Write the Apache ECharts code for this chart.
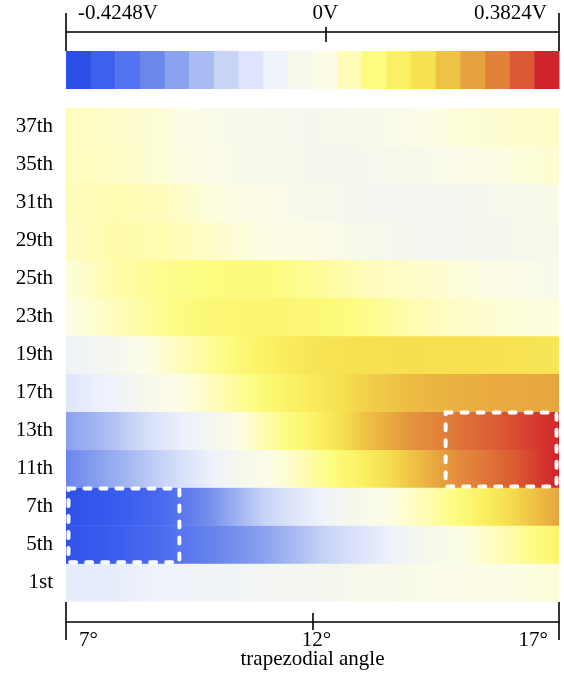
<!DOCTYPE html>
<html>
<head>
<meta charset="utf-8">
<script src="https://cdn.jsdelivr.net/npm/echarts@6/dist/echarts.min.js"></script>
<style>
  html, body { margin: 0; padding: 0; background: #fff; }
  #chart { width: 564px; height: 676px; }
</style>
</head>
<body>
<div id="chart"></div>
<script>
// Harmonic orders, listed bottom to top
const harmonics = ['1st', '5th', '7th', '11th', '13th', '17th', '19th', '23th', '25th', '29th', '31th', '35th', '37th'];

// Trapezoidal angle nodes (degrees) where each row's voltage is sampled
const angleNodes = [7, 8, 9, 10, 11, 12, 13, 14, 15, 16, 17];

// Harmonic voltage (V) at each angle node
const v1st  = [-0.100, -0.095, -0.080, -0.070, -0.060, -0.050, -0.040, -0.025, -0.010, 0.000, 0.010];
const v5th  = [-0.395, -0.370, -0.335, -0.290, -0.245, -0.180, -0.120, -0.060, -0.005, 0.050, 0.105];
const v7th  = [-0.400, -0.375, -0.340, -0.265, -0.165, -0.090, -0.035, 0.025, 0.085, 0.165, 0.240];
const v11th = [-0.285, -0.225, -0.160, -0.080, -0.015, 0.055, 0.120, 0.200, 0.270, 0.315, 0.365];
const v13th = [-0.245, -0.190, -0.110, -0.050, 0.045, 0.110, 0.195, 0.260, 0.295, 0.328, 0.360];
const v17th = [-0.115, -0.075, -0.020, 0.035, 0.090, 0.135, 0.180, 0.210, 0.225, 0.232, 0.235];
const v19th = [-0.080, -0.045, 0.020, 0.065, 0.115, 0.150, 0.160, 0.162, 0.160, 0.155, 0.148];
const v23th = [-0.005, 0.035, 0.070, 0.095, 0.100, 0.095, 0.075, 0.045, 0.025, 0.010, 0.005];
const v25th = [0.010, 0.050, 0.070, 0.080, 0.085, 0.065, 0.040, 0.025, 0.010, -0.010, -0.030];
const v29th = [0.030, 0.050, 0.045, 0.025, 0.000, -0.005, -0.035, -0.050, -0.050, -0.045, -0.030];
const v31th = [0.035, 0.045, 0.035, 0.005, -0.010, -0.035, -0.050, -0.050, -0.050, -0.040, -0.020];
const v35th = [0.035, 0.030, 0.010, -0.015, -0.035, -0.045, -0.045, -0.035, -0.010, 0.005, 0.020];
const v37th = [0.035, 0.025, 0.010, -0.020, -0.040, -0.045, -0.035, -0.010, 0.010, 0.020, 0.025];

const rowValues = [v1st, v5th, v7th, v11th, v13th, v17th, v19th, v23th, v25th, v29th, v31th, v35th, v37th];

// Colour scale, lowest to highest voltage (20 equal steps)
const colorScale = [
  '#2d4fe9', '#3e60ef', '#5473ee', '#6c87ec', '#8ba2ef',
  '#a9bbf3', '#c8d4f6', '#dde4fb', '#eef2fb', '#f6f8ec',
  '#fdfde6', '#fefcb8', '#fdfc80', '#fbf063', '#f6e150',
  '#efc245', '#e6a23e', '#e1813a', '#da5933', '#d1232b'
];

// Colour bar range and ticks (V)
const voltageTicks = [-0.4248, 0, 0.3824];
// Angle axis ticks (degrees)
const angleTicks = [7, 12, 17];

// Highlighted regions: angle span and the harmonic rows they cover
const boxStart = [7.05, 14.7];
const boxEnd = [9.3, 16.95];
const boxTopRow = ['7th', '13th'];
const boxBottomRow = ['5th', '11th'];

const vMin = voltageTicks[0];
const vMax = voltageTicks[voltageTicks.length - 1];
const vStep = (vMax - vMin) / colorScale.length;

function hexToRgb(h) {
  return [parseInt(h.slice(1, 3), 16), parseInt(h.slice(3, 5), 16), parseInt(h.slice(5, 7), 16)];
}
const scaleRgb = colorScale.map(hexToRgb);

// Continuous colour lookup: block centres carry the block colours
function colorAt(v) {
  const n = scaleRgb.length;
  const t = (v - vMin) / (vMax - vMin) * n - 0.5;
  let c;
  if (t <= 0) c = scaleRgb[0];
  else if (t >= n - 1) c = scaleRgb[n - 1];
  else {
    const i = Math.floor(t), f = t - i;
    const a = scaleRgb[i], b = scaleRgb[i + 1];
    c = [0, 1, 2].map(k => Math.round(a[k] + (b[k] - a[k]) * f));
  }
  return 'rgb(' + c.join(',') + ')';
}

const font = { fontFamily: 'Liberation Serif', fontSize: 21, color: '#000' };
const black = { color: '#000', width: 1.6 };

function tickAxis(gridIndex, position, offset, values, inside, length, min, max, showLine) {
  return {
    type: 'value', gridIndex, position, offset, min, max,
    axisLine: { show: !!showLine, onZero: false, lineStyle: black },
    axisTick: { show: true, customValues: values, inside, length, lineStyle: black },
    axisLabel: { show: false },
    splitLine: { show: false }
  };
}

function labelAxis(gridIndex, position, offset, values, align, padding, min, max, fmt) {
  return {
    type: 'value', gridIndex, position, offset, min, max,
    axisLine: { show: false, onZero: false },
    axisTick: { show: false },
    axisLabel: Object.assign({
      show: true, customValues: values, align, padding, margin: 8, formatter: fmt
    }, font),
    splitLine: { show: false }
  };
}

const aMin = angleNodes[0];
const aMax = angleNodes[angleNodes.length - 1];
const vFmt = v => v + 'V';
const aFmt = v => v + '°';

const xAxes = [
  // colour bar voltage axis
  tickAxis(0, 'top', 19, [vMin, vMax], false, 19, vMin, vMax, true),
  tickAxis(0, 'top', 19, [vMin, vMax], true, 19, vMin, vMax),
  tickAxis(0, 'top', 19, [voltageTicks[1]], false, 5, vMin, vMax),
  tickAxis(0, 'top', 19, [voltageTicks[1]], true, 10, vMin, vMax),
  labelAxis(0, 'top', 19, [vMin], 'left', [0, 0, 0, 12], vMin, vMax, vFmt),
  labelAxis(0, 'top', 19, [voltageTicks[1]], 'center', 0, vMin, vMax, vFmt),
  labelAxis(0, 'top', 19, [vMax], 'right', [0, 12, 0, 0], vMin, vMax, vFmt),
  // heat map angle axis
  Object.assign(tickAxis(1, 'bottom', 21, [aMin, aMax], false, 18, aMin, aMax, true), {
    name: 'trapezodial angle', nameLocation: 'middle', nameGap: 27,
    nameTextStyle: font
  }),
  tickAxis(1, 'bottom', 21, [aMin, aMax], true, 20, aMin, aMax),
  tickAxis(1, 'bottom', 21, [angleTicks[1]], false, 8, aMin, aMax),
  tickAxis(1, 'bottom', 21, [angleTicks[1]], true, 9, aMin, aMax),
  labelAxis(1, 'bottom', 21, [angleTicks[0]], 'left', [0, 0, 0, 13], aMin, aMax, aFmt),
  labelAxis(1, 'bottom', 21, [angleTicks[1]], 'center', [0, 0, 0, 8], aMin, aMax, aFmt),
  labelAxis(1, 'bottom', 21, [angleTicks[2]], 'right', [0, 11, 0, 0], aMin, aMax, aFmt)
];

const chart = echarts.init(document.getElementById('chart'), null, { renderer: 'canvas' });

chart.setOption({
  animation: false,
  backgroundColor: '#fff',
  grid: [
    { left: 66, right: 5, top: 51, height: 38 },
    { left: 66, right: 5, top: 108, height: 493 }
  ],
  xAxis: xAxes,
  yAxis: [
    { type: 'value', gridIndex: 0, min: 0, max: 1, show: false },
    {
      type: 'category', gridIndex: 1, data: harmonics,
      axisLine: { show: false }, axisTick: { show: false },
      axisLabel: Object.assign({ margin: 13 }, font),
      splitLine: { show: false }
    }
  ],
  series: [
    {
      // colour bar blocks
      type: 'custom', xAxisIndex: 0, yAxisIndex: 0, silent: true,
      data: colorScale.map((c, i) => [vMin + (i + 0.5) * vStep, 0.5, i]),
      encode: { x: 0, y: 1 },
      renderItem(params, api) {
        const i = api.value(2);
        const p0 = api.coord([vMin + i * vStep, 1]);
        const p1 = api.coord([vMin + (i + 1) * vStep, 0]);
        return {
          type: 'rect',
          shape: { x: p0[0], y: p0[1], width: p1[0] - p0[0] + 0.5, height: p1[1] - p0[1] },
          style: { fill: colorScale[i] }
        };
      }
    },
    {
      // heat map rows, shaded between angle nodes
      type: 'custom', xAxisIndex: 7, yAxisIndex: 1, silent: true,
      data: harmonics.map((h, r) => [aMin, r]),
      encode: { x: 0, y: 1 },
      renderItem(params, api) {
        const r = api.value(1);
        const vals = rowValues[r];
        const left = api.coord([aMin, r]);
        const right = api.coord([aMax, r]);
        const h = api.size([0, 1])[1];
        const span = aMax - aMin;
        const stops = [];
        for (let k = 0; k < angleNodes.length - 1; k++) {
          const steps = 10;
          for (let s = 0; s < steps; s++) {
            const f = s / steps;
            const a = angleNodes[k] + (angleNodes[k + 1] - angleNodes[k]) * f;
            const v = vals[k] + (vals[k + 1] - vals[k]) * f;
            stops.push({ offset: (a - aMin) / span, color: colorAt(v) });
          }
        }
        stops.push({ offset: 1, color: colorAt(vals[vals.length - 1]) });
        return {
          type: 'rect',
          shape: { x: left[0], y: left[1] - h / 2, width: right[0] - left[0], height: h + 0.6 },
          style: { fill: new echarts.graphic.LinearGradient(0, 0, 1, 0, stops) }
        };
      }
    },
    {
      // dashed outlines of the highlighted regions
      type: 'custom', xAxisIndex: 7, yAxisIndex: 1, silent: true, z: 5,
      data: boxStart.map((x0, i) => [x0, harmonics.indexOf(boxTopRow[i]), boxEnd[i], harmonics.indexOf(boxBottomRow[i])]),
      encode: { x: [0, 2], y: [1, 3] },
      renderItem(params, api) {
        const h = api.size([0, 1])[1];
        const pTop = api.coord([api.value(0), api.value(1)]);
        const pBot = api.coord([api.value(2), api.value(3)]);
        const y0 = pTop[1] - h / 2 + 1.2;
        const y1 = pBot[1] + h / 2 - 0.8;
        return {
          type: 'rect',
          shape: { x: pTop[0], y: y0, width: pBot[0] - pTop[0], height: y1 - y0 },
          style: { fill: 'none', stroke: '#fff', lineWidth: 4, lineDash: [6, 10], lineCap: 'round' }
        };
      }
    }
  ]
});
</script>
</body>
</html>
